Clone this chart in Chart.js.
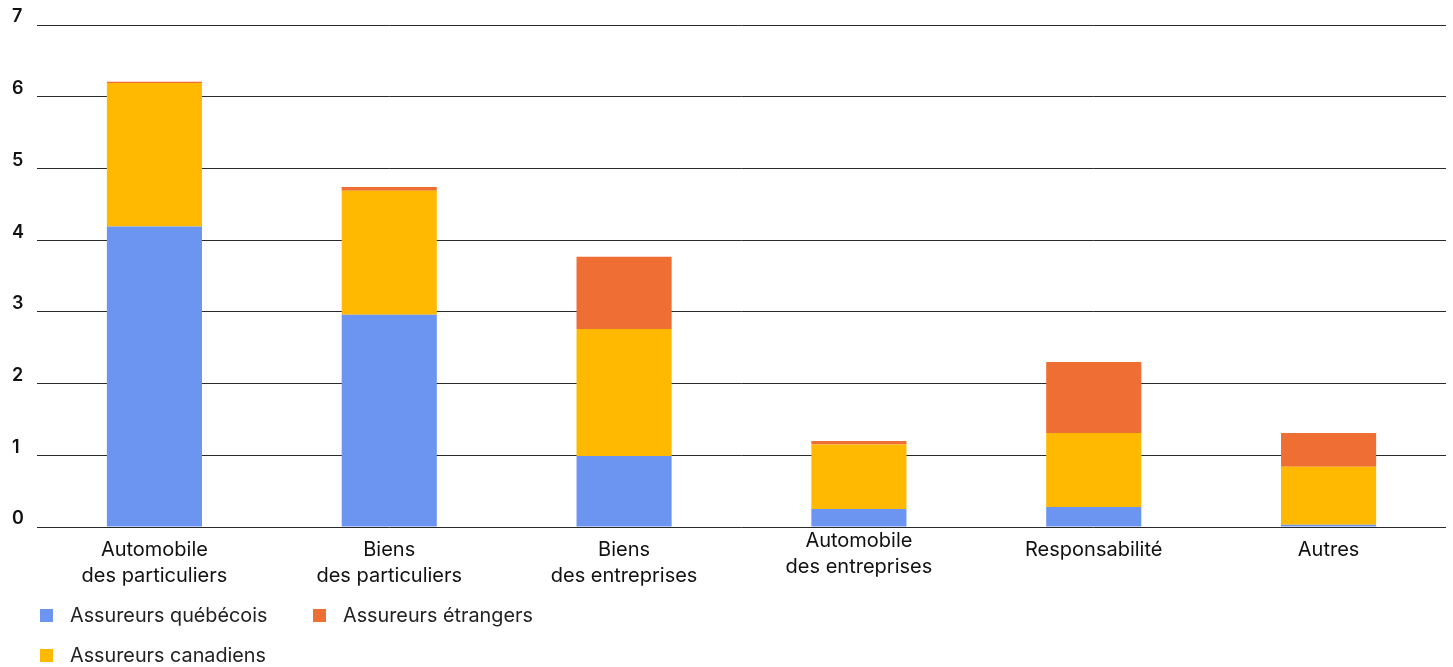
<!DOCTYPE html>
<html lang="fr">
<head>
<meta charset="utf-8">
<script src="https://cdn.jsdelivr.net/npm/chart.js@4/dist/chart.umd.min.js"></script>
<style>
  body { margin: 0; background: #fff; font-family: Inter, "Noto Sans", sans-serif; }
  #wrap { position: relative; width: 1453px; height: 667px; }
  #legend {
    position: absolute; left: 40px; top: 598px;
    display: grid; grid-auto-flow: column; grid-template-rows: 34px 34px;
    grid-template-columns: 273px 260px; row-gap: 6px;
    font-size: 19.8px; color: #222;
  }
  .item { display: flex; align-items: center; }
  .sw { width: 13px; height: 13px; margin-right: 17px; }
</style>
</head>
<body>
<div id="wrap">
  <canvas id="chart" width="1453" height="600"></canvas>
  <div id="legend"></div>
</div>
<script>
/* ---- data ---- */
const categories = [
  ["Automobile", "des particuliers"],
  ["Biens", "des particuliers"],
  ["Biens", "des entreprises"],
  ["Automobile", "des entreprises"],
  ["Responsabilité"],
  ["Autres"]
];
const seriesNames = ["Assureurs québécois", "Assureurs canadiens", "Assureurs étrangers"];
const quebecois  = [4.19, 2.96, 0.99, 0.25, 0.28, 0.03];
const canadiens  = [2.00, 1.73, 1.77, 0.90, 1.03, 0.81];
const etrangers  = [0.02, 0.05, 1.01, 0.05, 0.99, 0.47];
const yTicks = [0, 1, 2, 3, 4, 5, 6, 7];

const colors = ["#6c95f1", "#ffb900", "#ee6e33"];

/* ---- category labels under the bars ---- */
const xLabels = {
  id: "xLabels",
  afterDraw(chart) {
    const { ctx, chartArea } = chart;
    const x = chart.scales.x;
    ctx.save();
    ctx.font = "400 20px Inter, 'Noto Sans', sans-serif";
    ctx.fillStyle = "#111";
    ctx.textAlign = "center";
    ctx.textBaseline = "middle";
    categories.forEach((lines, i) => {
      const cx = x.getPixelForValue(i);
      const lift = i === 3 ? 9 : 0;   // this one sits a little higher
      lines.forEach((txt, j) => {
        ctx.fillText(txt, cx, chartArea.bottom + 23 - lift + j * 25.5);
      });
    });
    ctx.restore();
  }
};

const chart = new Chart(document.getElementById("chart"), {
  type: "bar",
  data: {
    labels: categories.map(c => c.join(" ")),
    datasets: [quebecois, canadiens, etrangers].map((d, i) => ({
      label: seriesNames[i],
      data: d,
      backgroundColor: colors[i],
      borderWidth: 0,
      categoryPercentage: 1,
      barPercentage: 0.405
    }))
  },
  options: {
    responsive: false,
    animation: false,
    devicePixelRatio: 1,
    layout: { padding: { top: 25, left: 12, right: 7, bottom: 65 } },
    plugins: { legend: { display: false }, tooltip: { enabled: false } },
    scales: {
      x: {
        stacked: true,
        grid: { display: false },
        border: { display: false },
        ticks: { display: false }
      },
      y: {
        stacked: true,
        min: 0,
        max: 7,
        afterFit(scale) { scale.width = 25; },
        afterBuildTicks(scale) { scale.ticks = yTicks.map(v => ({ value: v })); },
        grid: { color: "#2a2a2a", lineWidth: 1, drawTicks: false },
        border: { display: false },
        ticks: {
          crossAlign: "far",
          labelOffset: -8,
          color: "#111",
          font: { family: "Inter, 'Noto Sans', sans-serif", size: 18, weight: 600 }
        }
      }
    }
  },
  plugins: [xLabels]
});

/* ---- legend: two columns, québécois / canadiens on the left ---- */
const legend = document.getElementById("legend");
chart.data.datasets.forEach(ds => {
  const item = document.createElement("div");
  item.className = "item";
  item.innerHTML = `<span class="sw" style="background:${ds.backgroundColor}"></span>${ds.label}`;
  legend.appendChild(item);
});
</script>
</body>
</html>
